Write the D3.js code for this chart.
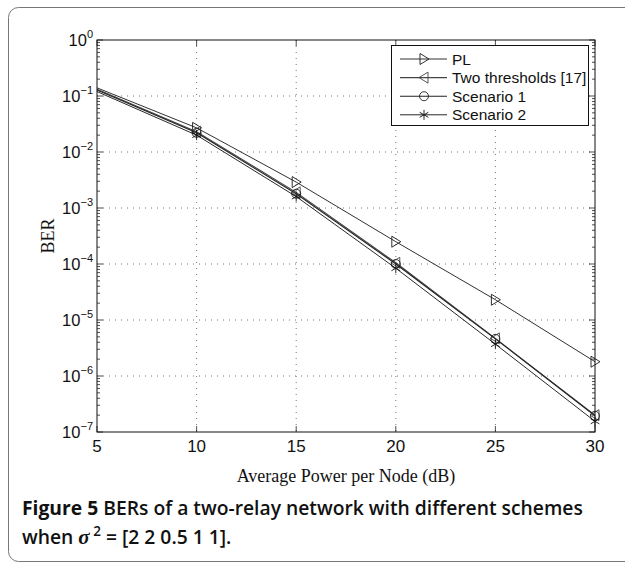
<!DOCTYPE html>
<html>
<head>
<meta charset="utf-8">
<script src="https://cdn.jsdelivr.net/npm/d3@7"></script>
<style>
  body { margin: 0; background: #fff; }
  .tick-lab { font-family: "Liberation Sans", Arial, sans-serif; fill: #111; }
  .ax-title { font-family: "Liberation Serif", "Times New Roman", serif; font-size: 18px; fill: #111; }
  .leg-lab { font-family: "Liberation Sans", Arial, sans-serif; font-size: 15.5px; fill: #111; }
  .cap { font-family: "Open Sans", "Noto Sans", sans-serif; font-size: 19.3px; fill: #111; }
</style>
</head>
<body>
<div id="chart"></div>
<script>
// chart data
var snr = [5, 10, 15, 20, 25, 30];
var ber_pl = [0.14, 0.027, 0.0029, 2.5e-4, 2.3e-5, 1.8e-6];
var ber_two = [0.132, 0.023, 0.0019, 1.05e-4, 4.7e-6, 2.0e-7];
var ber_s1 = [0.128, 0.022, 0.0018, 1.0e-4, 4.6e-6, 1.95e-7];
var ber_s2 = [0.12, 0.020, 0.0016, 8.4e-5, 3.7e-6, 1.55e-7];
var series_names = ["PL", "Two thresholds [17]", "Scenario 1", "Scenario 2"];
var x_ticks = [5, 10, 15, 20, 25, 30];
var y_exps = [0, -1, -2, -3, -4, -5, -6, -7];

var W = 625, H = 565;
var pL = 97, pR = 595, pT = 40, pB = 432;

var svg = d3.select("#chart").append("svg").attr("width", W).attr("height", H);

// rounded frame around the whole figure
svg.append("rect").attr("x", 8.5).attr("y", 7.5).attr("width", 640).attr("height", 554)
  .attr("rx", 10).attr("ry", 10).style("fill", "none").style("stroke", "#777").style("stroke-width", 1);

var x = d3.scaleLinear().domain([5, 30]).range([pL, pR]);
var y = d3.scaleLog().domain([1e-7, 1]).range([pB, pT]);

// grid
svg.selectAll(".vgrid").data(x_ticks.slice(1, -1)).enter().append("line").attr("class", "vgrid")
  .attr("x1", x).attr("x2", x).attr("y1", pT).attr("y2", pB)
  .style("stroke", "#777").style("stroke-width", 1).style("stroke-dasharray", "1,5");
svg.selectAll(".hgrid").data(y_exps.slice(1, -1)).enter().append("line").attr("class", "hgrid")
  .attr("x1", pL).attr("x2", pR)
  .attr("y1", function(d){ return y(Math.pow(10, d)); }).attr("y2", function(d){ return y(Math.pow(10, d)); })
  .style("stroke", "#777").style("stroke-width", 1).style("stroke-dasharray", "1,5");

// minor ticks on the log axis (both sides)
var minors = [];
y_exps.slice(1).forEach(function(e){ for (var m = 2; m <= 9; m++) minors.push(m * Math.pow(10, e)); });
[pL, pR].forEach(function(px, k){
  var dir = k == 0 ? 1 : -1;
  svg.append("g").selectAll("line").data(minors).enter().append("line")
    .attr("x1", px).attr("x2", px + dir * 3)
    .attr("y1", function(d){ return y(d); }).attr("y2", function(d){ return y(d); })
    .style("stroke", "#222").style("stroke-width", 0.8);
  svg.append("g").selectAll("line").data(y_exps).enter().append("line")
    .attr("x1", px).attr("x2", px + dir * 6)
    .attr("y1", function(d){ return y(Math.pow(10, d)); }).attr("y2", function(d){ return y(Math.pow(10, d)); })
    .style("stroke", "#222").style("stroke-width", 0.8);
});
// x ticks top and bottom
[pT, pB].forEach(function(py, k){
  var dir = k == 0 ? 1 : -1;
  svg.append("g").selectAll("line").data(x_ticks).enter().append("line")
    .attr("x1", x).attr("x2", x).attr("y1", py).attr("y2", py + dir * 6)
    .style("stroke", "#222").style("stroke-width", 0.8);
});

// series
var series = [
  { name: series_names[0], vals: ber_pl, marker: "tri_r", color: "#1a1a1a", width: 0.9 },
  { name: series_names[1], vals: ber_two, marker: "tri_l", color: "#444", width: 1.1 },
  { name: series_names[2], vals: ber_s1, marker: "circle", color: "#222", width: 1.1 },
  { name: series_names[3], vals: ber_s2, marker: "star", color: "#111", width: 0.9 }
];

var line = d3.line().x(function(d){ return x(d.x); }).y(function(d){ return y(d.y); });

function drawMarker(g, type, color) {
  if (type == "tri_r") {
    g.append("path").attr("d", "M-4,-5.5L5,0L-4,5.5Z").style("fill", "none").style("stroke", color).style("stroke-width", 0.9);
  } else if (type == "tri_l") {
    g.append("path").attr("d", "M4,-5.5L-5,0L4,5.5Z").style("fill", "none").style("stroke", color).style("stroke-width", 0.9);
  } else if (type == "circle") {
    g.append("circle").attr("r", 4.5).style("fill", "none").style("stroke", color).style("stroke-width", 0.9);
  } else {
    for (var a = 0; a < 180; a += 60) {
      var r = a * Math.PI / 180 + Math.PI / 2;
      g.append("line").attr("x1", -5 * Math.cos(r)).attr("y1", -5 * Math.sin(r))
        .attr("x2", 5 * Math.cos(r)).attr("y2", 5 * Math.sin(r))
        .style("stroke", color).style("stroke-width", 0.9);
    }
  }
}

series.forEach(function(s){
  var pts = snr.map(function(v, i){ return { x: v, y: s.vals[i] }; });
  svg.append("path").attr("d", line(pts)).style("fill", "none")
    .style("stroke", s.color).style("stroke-width", s.width);
  pts.filter(function(p){ return p.x > 5; }).forEach(function(p){
    var g = svg.append("g").attr("transform", "translate(" + x(p.x) + "," + y(p.y) + ")");
    drawMarker(g, s.marker, s.color);
  });
});

// plot box
svg.append("rect").attr("x", pL).attr("y", pT).attr("width", pR - pL).attr("height", pB - pT)
  .style("fill", "none").style("stroke", "#111").style("stroke-width", 1);

// tick labels
svg.append("g").selectAll("text").data(x_ticks).enter().append("text").attr("class", "tick-lab")
  .attr("x", x).attr("y", 452).attr("text-anchor", "middle").style("font-size", "17px")
  .text(function(d){ return d; });

var ylab = svg.append("g").selectAll("text").data(y_exps).enter().append("text").attr("class", "tick-lab")
  .attr("x", 93).attr("y", function(d){ return y(Math.pow(10, d)) + 6; })
  .attr("text-anchor", "end").style("font-size", "16.5px");
ylab.append("tspan").text("10");
ylab.append("tspan").attr("dy", -8).style("font-size", "11px")
  .text(function(d){ return d == 0 ? "0" : "\u2212" + (-d); });

// axis titles
svg.append("text").attr("class", "ax-title").attr("x", (pL + pR) / 2).attr("y", 482)
  .attr("text-anchor", "middle").text("Average Power per Node (dB)");
svg.append("text").attr("class", "ax-title").attr("transform", "translate(54,236)rotate(-90)")
  .attr("text-anchor", "middle").text("BER");

// legend
var lg = svg.append("g");
lg.append("rect").attr("x", 391.5).attr("y", 45.5).attr("width", 197).attr("height", 80)
  .style("fill", "#fff").style("stroke", "#111").style("stroke-width", 1);
series.forEach(function(s, i){
  var ly = 59 + i * 18.6;
  lg.append("line").attr("x1", 400).attr("x2", 447).attr("y1", ly).attr("y2", ly)
    .style("stroke", s.color).style("stroke-width", s.width);
  drawMarker(lg.append("g").attr("transform", "translate(424," + ly + ")"), s.marker, s.color);
  lg.append("text").attr("class", "leg-lab").attr("x", 452).attr("y", ly + 5.5).text(s.name);
});

// caption
var c1 = svg.append("text").attr("class", "cap").attr("x", 22).attr("y", 515);
c1.append("tspan").style("font-weight", 700).text("Figure 5");
c1.append("tspan").style("font-weight", 600).text(" BERs of a two-relay network with different schemes");
var c2 = svg.append("text").attr("class", "cap").attr("x", 22).attr("y", 544).style("font-weight", 600);
c2.append("tspan").text("when ");
c2.append("tspan").style("font-family", "'Liberation Serif', serif").style("font-style", "italic").style("font-size", "21px").text("\u03c3");
c2.append("tspan").attr("dy", -8).style("font-size", "13.5px").text(" 2");
c2.append("tspan").attr("dy", 8).text(" = [2 2 0.5 1 1].");
</script>
</body>
</html>
